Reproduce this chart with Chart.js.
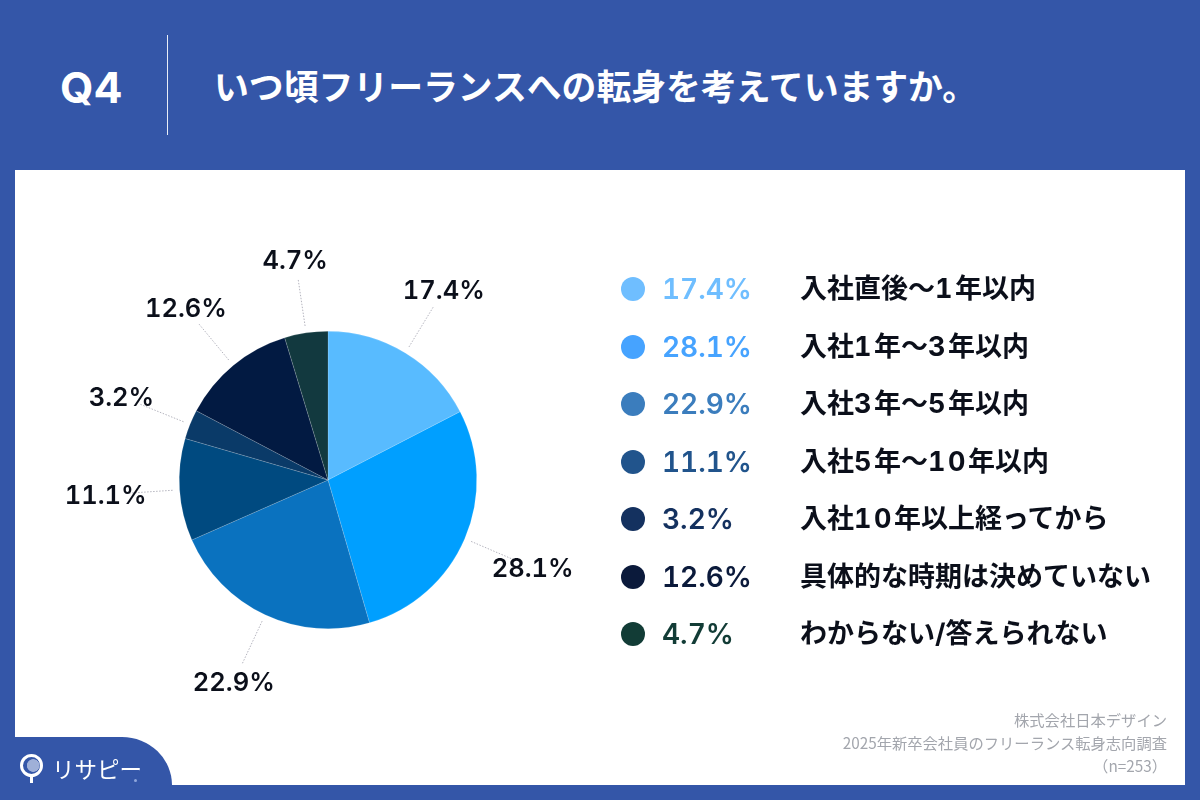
<!DOCTYPE html>
<html lang="ja">
<head>
<meta charset="utf-8">
<title>Q4</title>
<script src="https://cdn.jsdelivr.net/npm/chart.js@4"></script>
<style>
html,body{margin:0;padding:0}
body{width:1200px;height:800px;overflow:hidden;position:relative;background:#3456a8;font-family:"Noto Sans CJK JP",sans-serif;color:#0b0f1a}
.abs{position:absolute;white-space:nowrap}
#panel{left:15px;top:170px;width:1170px;height:615px;background:#fff}
#tab{left:15px;top:737px;width:157px;height:48px;background:#3456a8;border-top-right-radius:50px 48px}
#q{left:60px;top:58px;font:700 43px/58px Inter,sans-serif;color:#fff}
#rule{left:167px;top:35px;width:1px;height:100px;background:#e8edf7}
#title{left:214px;top:56px;font-weight:700;font-size:34.85px;line-height:58px;color:#fff}
#wrap{position:absolute;left:0;top:0;width:1200px;height:800px}
.dot{position:absolute;left:621px;width:24px;height:24px;border-radius:50%}
.pct{position:absolute;left:662px;font:600 28px/36px Inter,sans-serif;font-variant-numeric:tabular-nums}
.cat{position:absolute;left:800px;font-family:Inter,"Noto Sans CJK JP",sans-serif;font-variant-numeric:tabular-nums;font-weight:700;font-size:27px;line-height:36px;white-space:nowrap;color:#0b0f1a}
.cat .n{letter-spacing:2.5px}
.plabel{position:absolute;transform:translate(-50%,-50%);font:600 25.5px/30px Inter,sans-serif;font-variant-numeric:tabular-nums;color:#0b0f1a;white-space:nowrap}
#source{right:33px;top:708px;text-align:right;font-size:15.3px;line-height:23px;color:#a3a6ad}
#logo{left:52px;top:750px;font-size:22.5px;line-height:36px;font-weight:400;color:#fff}
#logodot{left:134px;top:779px;width:3px;height:3px;border-radius:50%;background:#8fa6dc}
#pin{left:20px;top:754px;width:17px;height:17px;border:3px solid #fff;border-radius:50%;background:radial-gradient(circle at 60% 50%,#9fb0d8 0 45%,#3456a8 50%)}
#pinstem{left:30px;top:776px;width:3px;height:7px;background:#fff}
</style>
</head>
<body>
<div class="abs" id="panel"></div>
<div class="abs" id="tab"></div>
<div class="abs" id="q">Q4</div>
<div class="abs" id="rule"></div>
<div class="abs" id="title">いつ頃フリーランスへの転身を考えていますか。</div>
<div id="wrap"><canvas id="pie" width="1200" height="800"></canvas></div>
<div id="labels"></div>
<div id="legend"></div>
<div class="abs" id="source"></div>
<div class="abs" id="pin"></div>
<div class="abs" id="pinstem"></div>
<div class="abs" id="logo">リサピー</div>
<div class="abs" id="logodot"></div>
<script>
// ====== Data ======
const categories = ['入社直後〜1年以内','入社1年〜3年以内','入社3年〜5年以内','入社5年〜10年以内','入社10年以上経ってから','具体的な時期は決めていない','わからない/答えられない'];
const values = [17.4,28.1,22.9,11.1,3.2,12.6,4.7];
const sliceColors = ['#58bbff','#009fff','#0a72bf','#004a80','#0a3a68','#021a42','#12393f'];
const legendColors = ['#6fbeff','#46a3ff','#3b7dbd','#21548c','#14315f','#0b1a3b','#123c36'];
const sourceLines = ['株式会社日本デザイン','2025年新卒会社員のフリーランス転身志向調査','（n=253）'];

const $ = s=>document.querySelector(s);

// ====== Legend / source ======
$('#legend').innerHTML = categories.map((c,i)=>{
  const y = 289 + i*57.5;
  return `<div class="dot" style="top:${y-12}px;background:${legendColors[i]}"></div>
  <div class="pct" style="top:${y-18}px;color:${legendColors[i]}">${values[i].toFixed(1)}%</div>
  <div class="cat" style="top:${y-18}px">${c.replace(/\d+/g,'<span class="n">$&</span>')}</div>`;
}).join('');
$('#source').innerHTML = sourceLines.join('<br>');

// ====== Labels outside the pie, placed along each slice's mid angle ======
const outerLabels = {
  id:'outerLabels',
  afterDatasetsDraw(chart){
    const c = chart.ctx;
    let html = '';
    chart.getDatasetMeta(0).data.forEach((arc,i)=>{
      const mid = (arc.startAngle+arc.endAngle)/2, r = arc.outerRadius;
      const cos = Math.cos(mid), sin = Math.sin(mid);
      c.save();
      c.strokeStyle = '#b4b4be'; c.lineWidth = 1; c.setLineDash([1.5,1.5]);
      c.beginPath();
      c.moveTo(arc.x+cos*(r+7), arc.y+sin*(r+7));
      c.lineTo(arc.x+cos*(r+54), arc.y+sin*(r+54));
      c.stroke();
      c.restore();
      html += `<div class="plabel" style="left:${arc.x+cos*(r+74)}px;top:${arc.y+sin*(r+74)}px">${values[i].toFixed(1)}%</div>`;
    });
    $('#labels').innerHTML = html;
  }
};

// ====== Chart ======
new Chart($('#pie'), {
  type:'pie',
  data:{ labels:categories, datasets:[{ data:values, backgroundColor:sliceColors, borderColor:'rgba(255,255,255,.3)', borderWidth:0.5, hoverOffset:0 }]},
  options:{
    responsive:false, animation:false,
    layout:{ padding:{ left:179, right:723, top:331, bottom:171 } },
    plugins:{ legend:{display:false}, tooltip:{enabled:false} }
  },
  plugins:[outerLabels]
});
</script>
</body>
</html>
